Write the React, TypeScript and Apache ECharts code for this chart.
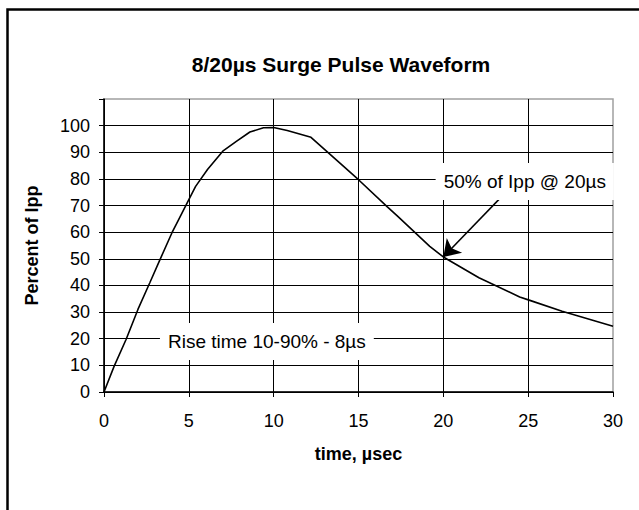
import React, { useEffect, useRef } from "react";
import * as echarts from "echarts";

const TITLE = "8/20µs Surge Pulse Waveform";
const X_NAME = "time, µsec";
const Y_NAME = "Percent of Ipp";

// waveform samples (time in µs, percent of Ipp)
const timeUs = [0, 0.6, 1.3, 2.0, 2.7, 3.3, 4.0, 4.4, 5.0, 5.4, 6.1, 7.0, 7.8, 8.6, 9.4, 10.0, 10.8, 12.2, 15.0, 16.7, 17.3, 19.2, 20.0, 22.1, 24.5, 25.1, 27.0, 30.0];
const percentIpp = [0, 9.7, 19.7, 31, 41, 49.7, 59.7, 64.7, 72.2, 77.2, 83.5, 90.4, 94.1, 97.6, 99.2, 99.3, 98.2, 95.6, 79.7, 69.5, 66, 54.7, 50.7, 42.9, 35.7, 34.4, 30.3, 24.7];

const X_MIN = 0;
const X_MAX = 30;
const X_STEP = 5;
const Y_MIN = 0;
const Y_MAX = 110;
const Y_STEP = 10;
const Y_LABEL_MAX = 100;

const noteTexts = ["50% of Ipp @ 20µs", "Rise time 10-90% - 8µs"];
const noteAt = [
  [24.8, 79],
  [9.6, 19],
];
const arrowFrom = [23.55, 74.1];
const arrowTo = [20, 50.7];

const FONT = "'Liberation Sans', Arial, sans-serif";

export default function App() {
  const ref = useRef<HTMLDivElement>(null);
  useEffect(() => {
    if (!ref.current) return;
    const chart = echarts.init(ref.current, undefined, { renderer: "svg" });
    const data = timeUs.map((t, i) => [t, percentIpp[i]]);
    chart.setOption({
      animation: false,
      backgroundColor: "#fff",
      textStyle: { fontFamily: FONT },
      title: {
        text: TITLE,
        left: 336,
        top: 49,
        textAlign: "center",
        textStyle: { fontFamily: FONT, fontWeight: "bold", fontSize: 21, color: "#000" },
      },
      graphic: [
        {
          type: "rect",
          shape: { x: 7.5, y: 9.5, width: 1000, height: 1000 },
          style: { fill: "none", stroke: "#000", lineWidth: 2.5 },
          silent: true,
        },
      ],
      grid: {
        left: 104,
        top: 99,
        right: 26,
        bottom: 118,
        show: true,
        borderColor: "#a0a0a0",
        borderWidth: 1.5,
        backgroundColor: "transparent",
      },
      xAxis: {
        type: "value",
        min: X_MIN,
        max: X_MAX,
        interval: X_STEP,
        name: X_NAME,
        nameLocation: "middle",
        nameGap: 53,
        nameTextStyle: { fontFamily: FONT, fontWeight: "bold", fontSize: 18, color: "#000" },
        axisLine: { show: true, lineStyle: { color: "#000", width: 1.5 } },
        axisTick: { show: true, inside: false, length: 5, lineStyle: { color: "#000" } },
        axisLabel: { margin: 20, fontSize: 18, color: "#000", fontFamily: FONT },
        splitLine: { show: true, showMaxLine: false, lineStyle: { color: "#000", width: 1 } },
      },
      yAxis: {
        type: "value",
        min: Y_MIN,
        max: Y_MAX,
        interval: Y_STEP,
        name: Y_NAME,
        nameLocation: "middle",
        nameGap: 63,
        nameRotate: 90,
        nameTextStyle: { fontFamily: FONT, fontWeight: "bold", fontSize: 18, color: "#000" },
        axisLine: { show: true, lineStyle: { color: "#000", width: 1.5 } },
        axisTick: { show: true, inside: false, length: 5, lineStyle: { color: "#000" } },
        axisLabel: {
          margin: 14,
          fontSize: 18,
          color: "#000",
          fontFamily: FONT,
          formatter: (v: number) => (v > Y_LABEL_MAX ? "" : String(v)),
        },
        splitLine: { show: true, showMaxLine: false, lineStyle: { color: "#000", width: 1 } },
      },
      series: [
        {
          type: "line",
          data,
          showSymbol: false,
          symbol: "none",
          lineStyle: { color: "#000", width: 1.6 },
          z: 3,
          markPoint: {
            symbol: "rect",
            symbolSize: 1,
            itemStyle: { color: "rgba(0,0,0,0)" },
            label: {
              show: true,
              position: "inside",
              color: "#000",
              fontSize: 19,
              fontFamily: FONT,
              backgroundColor: "#fff",
              padding: [9, 8],
              formatter: (p: any) => p.name,
            },
            data: noteTexts.map((t, i) => ({ name: t, coord: noteAt[i] })),
          },
          markLine: {
            silent: true,
            symbol: ["none", "arrow"],
            symbolSize: 16,
            lineStyle: { color: "#000", width: 1.5, type: "solid" },
            itemStyle: { color: "#000" },
            label: { show: false },
            data: [[{ coord: arrowFrom }, { coord: arrowTo }]],
          },
        },
      ],
    });
    return () => chart.dispose();
  }, []);
  return (
    <div
      ref={ref}
      style={{ position: "absolute", left: 0, top: 0, width: 639, height: 510 }}
    />
  );
}
